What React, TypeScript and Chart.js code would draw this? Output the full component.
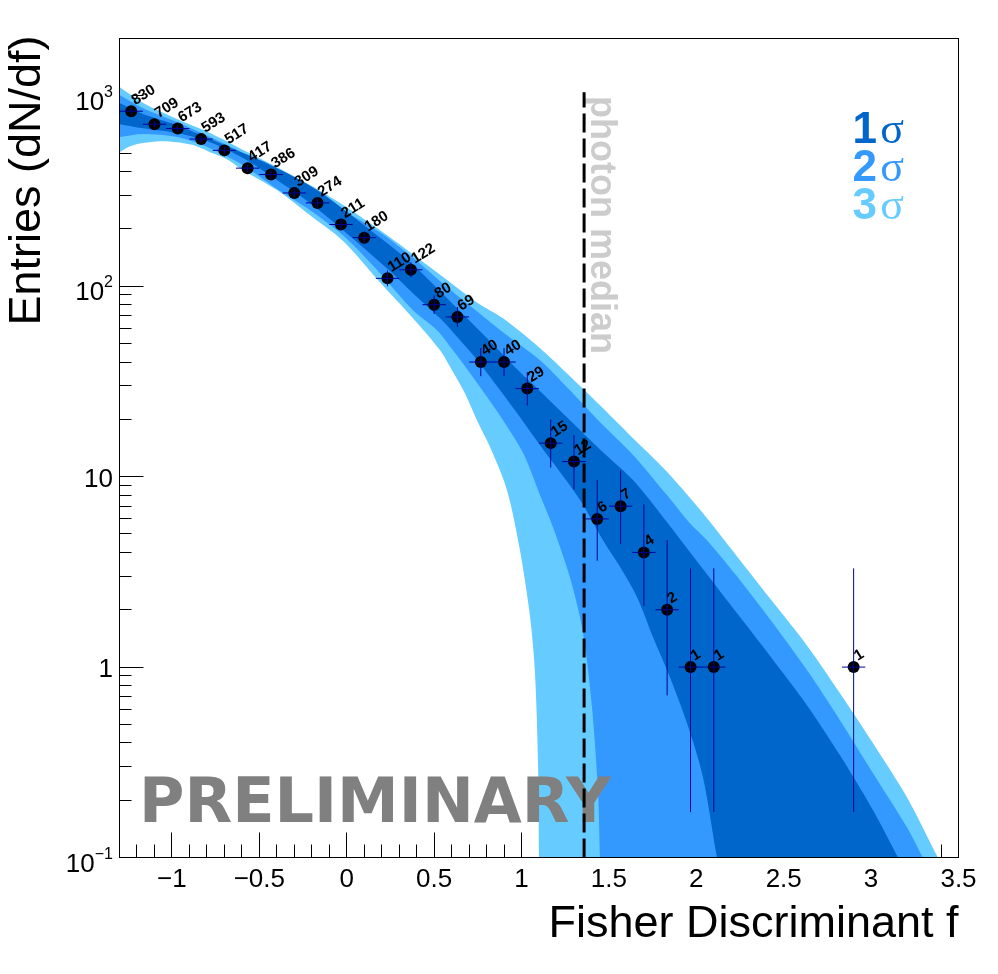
import { useEffect, useRef } from "react";
import { Chart, registerables } from "chart.js";

Chart.register(...registerables);

const FONT = "'Liberation Sans'";

// measured entries, bin centres and poisson error bars
const binCentres = [-1.233, -1.1, -0.967, -0.833, -0.7, -0.567, -0.433, -0.3, -0.167, -0.033, 0.1, 0.233, 0.367, 0.5, 0.633, 0.767, 0.9, 1.033, 1.167, 1.3, 1.433, 1.567, 1.7, 1.833, 1.967, 2.1, 2.9];
const entries = [830, 709, 673, 593, 517, 417, 386, 309, 274, 211, 180, 110, 122, 80, 69, 40, 40, 29, 15, 12, 6, 7, 4, 2, 1, 1, 1];
const errLow = [28.31, 26.13, 25.45, 23.86, 22.24, 19.93, 19.15, 17.08, 16.06, 14.03, 12.93, 10, 10.56, 8.46, 7.82, 6.3, 6.3, 5.37, 3.83, 3.44, 2.38, 2.58, 1.91, 1.29, 0.827, 0.827, 0.827];
const errHigh = [29.31, 27.13, 26.45, 24.86, 23.24, 20.93, 20.15, 18.08, 17.06, 15.03, 13.93, 11, 11.56, 9.46, 8.82, 7.35, 7.35, 6.41, 4.95, 4.53, 3.58, 3.77, 3.16, 2.64, 2.3, 2.3, 2.3];
const binHalfWidth = 0.0667;

// sigma band edges, each runs a little under the axis so the clip cuts it
const s3UpperX = [-1.3, -1.165, -0.971, -0.782, -0.593, -0.399, -0.21, -0.021, 0.173, 0.362, 0.574, 0.751, 0.894, 1.106, 1.277, 1.449, 1.638, 1.832, 2.061, 2.25, 2.439, 2.633, 2.822, 3.011, 3.205, 3.382, 3.423];
const s3Upper = [1111, 916, 755, 637, 519, 422, 340, 267, 202, 151, 108, 81.5, 67.9, 47.3, 33.7, 23.7, 15.9, 10.6, 6.05, 3.64, 2.19, 1.3, 0.729, 0.398, 0.207, 0.1, 0.086];
const s2UpperX = [-1.3, -1.165, -0.971, -0.782, -0.593, -0.399, -0.21, -0.021, 0.19, 0.379, 0.574, 0.723, 0.894, 1.106, 1.277, 1.449, 1.638, 1.832, 1.958, 2.061, 2.25, 2.439, 2.633, 2.822, 3.011, 3.205, 3.296, 3.337];
const s2Upper = [1009, 861, 728, 607, 500, 397, 320, 251, 192, 141, 98.9, 76.7, 57.4, 40.9, 28.4, 19.3, 13, 8, 5.77, 4.63, 2.86, 1.7, 0.964, 0.526, 0.277, 0.144, 0.1, 0.086];
const s1UpperX = [-1.3, -1.165, -0.971, -0.834, -0.702, -0.433, -0.17, 0.099, 0.362, 0.631, 0.803, 0.991, 1.106, 1.277, 1.449, 1.638, 1.81, 2.096, 2.25, 2.439, 2.633, 2.822, 3.011, 3.154, 3.194];
const s1Upper = [916, 802, 701, 622, 551, 432, 320, 209, 134, 76.7, 53.3, 35.4, 28.1, 19.8, 13.9, 9.59, 6.12, 2.79, 1.83, 1.09, 0.631, 0.344, 0.177, 0.1, 0.086];
const s1LowerX = [-1.3, -1.165, -0.971, -0.782, -0.593, -0.399, -0.21, -0.021, 0.231, 0.379, 0.534, 0.608, 0.723, 0.803, 0.975, 1.106, 1.335, 1.466, 1.564, 1.661, 1.752, 1.849, 1.947, 2.038, 2.118, 2.136];
const s1Lower = [710, 676, 637, 571, 471, 361, 273, 197, 124, 92, 67.9, 57.4, 43.5, 35, 21.5, 14.6, 7.53, 4.63, 3.35, 2.33, 1.44, 0.885, 0.507, 0.264, 0.1, 0.086];
const s2LowerX = [-1.3, -1.165, -0.971, -0.782, -0.593, -0.399, -0.21, -0.021, 0.19, 0.379, 0.517, 0.608, 0.705, 0.803, 0.894, 1.009, 1.117, 1.18, 1.277, 1.352, 1.403, 1.438, 1.449, 1.455];
const s2Lower = [607, 630, 607, 531, 432, 324, 251, 185, 117, 74.8, 58.8, 46.1, 35, 26.2, 19.8, 13.3, 7.53, 5.43, 2.96, 1.51, 0.615, 0.218, 0.1, 0.086];
const s3LowerX = [-1.3, -1.239, -1.165, -1.068, -0.971, -0.879, -0.782, -0.685, -0.593, -0.399, -0.21, -0.021, 0.19, 0.379, 0.534, 0.608, 0.676, 0.745, 0.82, 0.917, 0.991, 1.049, 1.077, 1.095, 1.1, 1.101];
const s3Lower = [506, 544, 565, 578, 571, 551, 506, 465, 407, 320, 236, 173, 105, 68, 46.1, 35.4, 27.4, 19.8, 14.3, 8.49, 4.11, 1.83, 0.929, 0.298, 0.1, 0.086];

const medianX = 1.358;
const medianTop = 1045;

// axis ticks
const xLabelTicks = [-1, -0.5, 0, 0.5, 1, 1.5, 2, 2.5, 3, 3.5];
const xMinorTicks = [-1.2, -1.1, -0.9, -0.8, -0.7, -0.6, -0.4, -0.3, -0.2, -0.1, 0.1, 0.2, 0.3, 0.4, 0.6, 0.7, 0.8, 0.9, 1.1, 1.2, 1.3, 1.4, 1.6, 1.7, 1.8, 1.9, 2.1, 2.2, 2.3, 2.4, 2.6, 2.7, 2.8, 2.9, 3.1, 3.2, 3.3, 3.4];
const yMajorTicks = [0.1, 1, 10, 100, 1000];
const yMinorTicks = [0.2, 0.3, 0.4, 0.5, 0.6, 0.7, 0.8, 0.9, 2, 3, 4, 5, 6, 7, 8, 9, 20, 30, 40, 50, 60, 70, 80, 90, 200, 300, 400, 500, 600, 700, 800, 900];
const yTickBase = ["10", "1", "10", "10", "10"];
const yTickExp = ["\u22121", "", "", "2", "3"];

function polygon(upX: number[], up: number[], lowX: number[], low: number[]) {
  const top = upX.map((x, i) => ({ x, y: up[i] }));
  const bottom = lowX.map((x, i) => ({ x, y: low[i] })).reverse();
  return [...top, ...bottom];
}

function bandDataset(data: { x: number; y: number }[], color: string, order: number) {
  return {
    data,
    order,
    showLine: true,
    tension: 0.3,
    fill: "shape",
    backgroundColor: color,
    borderWidth: 0,
    pointRadius: 0,
  };
}

// root style decorations: inside ticks, frame, exponent labels, free text
const decorations = {
  id: "decorations",
  beforeDatasetsDraw(chart: any) {
    // the bands cover the ticks in the original
    const { ctx, scales, chartArea } = chart;
    const { x, y } = scales;
    ctx.save();
    ctx.strokeStyle = "#000";
    ctx.lineWidth = 1;
    ctx.beginPath();
    const vTick = (v: number, len: number) => {
      const p = Math.floor(x.getPixelForValue(v)) + 0.5;
      ctx.moveTo(p, chartArea.bottom);
      ctx.lineTo(p, chartArea.bottom - len);
    };
    const hTick = (v: number, len: number) => {
      const p = Math.floor(y.getPixelForValue(v)) + 0.5;
      ctx.moveTo(chartArea.left, p);
      ctx.lineTo(chartArea.left + len, p);
    };
    xLabelTicks.forEach((v) => vTick(v, 25));
    xMinorTicks.forEach((v) => vTick(v, 13));
    yMajorTicks.forEach((v) => hTick(v, 24));
    yMinorTicks.forEach((v) => hTick(v, 12));
    ctx.stroke();
    ctx.restore();
  },
  afterDatasetDraw(chart: any, args: any) {
    // only after the 1 sigma band, so the dashed line and points stay on top
    if (args.index !== 2) return;
    const { ctx, scales } = chart;
    ctx.save();
    ctx.fillStyle = "#808080";
    ctx.font = "bold 62px 'DejaVu Sans'";
    ctx.textAlign = "left";
    ctx.textBaseline = "alphabetic";
    ctx.fillText("PRELIMINARY", 139, 822);

    ctx.fillStyle = "#cccccc";
    ctx.font = `bold 36px ${FONT}`;
    ctx.translate(scales.x.getPixelForValue(medianX) + 7, 96);
    ctx.rotate(Math.PI / 2);
    ctx.fillText("photon median", 0, 0);
    ctx.restore();
  },
  afterDatasetsDraw(chart: any) {
    const { ctx, scales, chartArea } = chart;
    const { x, y } = scales;
    ctx.save();

    // value labels
    ctx.fillStyle = "#000";
    ctx.font = `bold 15px ${FONT}`;
    ctx.textAlign = "left";
    ctx.textBaseline = "alphabetic";
    entries.forEach((v, i) => {
      ctx.save();
      ctx.translate(x.getPixelForValue(binCentres[i]) + 4, y.getPixelForValue(v) - 6);
      ctx.rotate((-32 * Math.PI) / 180);
      ctx.fillText(String(v), 0, 0);
      ctx.restore();
    });

    ctx.strokeStyle = "#000";
    ctx.lineWidth = 1;
    ctx.strokeRect(chartArea.left, chartArea.top, chartArea.right - chartArea.left, chartArea.bottom - chartArea.top);

    // y axis title, drawn here so it can sit slightly past the frame top
    ctx.save();
    ctx.font = `45px ${FONT}`;
    ctx.textAlign = "right";
    ctx.textBaseline = "middle";
    ctx.translate(27.5, 35.5);
    ctx.rotate(-Math.PI / 2);
    ctx.fillText("Entries (dN/df)", 0, 0);
    ctx.restore();

    // y tick labels with superscripts
    ctx.textAlign = "right";
    ctx.textBaseline = "alphabetic";
    yMajorTicks.forEach((v, i) => {
      const base = yTickBase[i];
      const exp = yTickExp[i];
      const p = y.getPixelForValue(v);
      let right = 113;
      if (exp) {
        ctx.font = `16px ${FONT}`;
        ctx.fillText(exp, right, p + 1);
        right -= ctx.measureText(exp).width;
      }
      ctx.font = `26px ${FONT}`;
      ctx.fillText(base, right, p + (exp ? 14 : 10));
    });

    // sigma legend
    ctx.textAlign = "right";
    [
      { n: "1", color: "#0066cc", base: 143 },
      { n: "2", color: "#3399ff", base: 181 },
      { n: "3", color: "#66ccff", base: 219 },
    ].forEach(({ n, color, base }) => {
      ctx.fillStyle = color;
      ctx.font = `44px 'Liberation Serif'`;
      ctx.fillText("\u03c3", 904, base);
      ctx.font = `bold 44px ${FONT}`;
      ctx.fillText(n, 877, base);
    });
    ctx.restore();
  },
};

export default function App() {
  const ref = useRef<HTMLCanvasElement | null>(null);

  useEffect(() => {
    if (!ref.current) return;
    const points = binCentres.map((x, i) => ({ x, y: entries[i] }));
    const errorBars: { x: number; y: number }[] = [];
    binCentres.forEach((x, i) => {
      const v = entries[i];
      errorBars.push({ x: x - binHalfWidth, y: v }, { x: x + binHalfWidth, y: v }, { x: NaN, y: NaN });
      errorBars.push({ x, y: v - errLow[i] }, { x, y: v + errHigh[i] }, { x: NaN, y: NaN });
    });

    const chart = new Chart(ref.current, {
      type: "scatter",
      data: {
        datasets: [
          bandDataset(polygon(s3UpperX, s3Upper, s3LowerX, s3Lower), "#66ccff", 7),
          bandDataset(polygon(s2UpperX, s2Upper, s2LowerX, s2Lower), "#3399ff", 6),
          bandDataset(polygon(s1UpperX, s1Upper, s1LowerX, s1Lower), "#0066cc", 5),
          {
            data: [{ x: medianX, y: 0.1 }, { x: medianX, y: medianTop }],
            order: 4,
            showLine: true,
            borderColor: "#000",
            borderWidth: 3,
            borderDash: [19, 6],
            pointRadius: 0,
          },
          { data: points, order: 3, backgroundColor: "#000", pointRadius: 6, pointBorderWidth: 0 },
          { data: errorBars, order: 2, showLine: true, spanGaps: false, borderColor: "#000099", borderWidth: 1, pointRadius: 0 },
        ],
      } as any,
      options: {
        responsive: false,
        animation: false,
        devicePixelRatio: 1,
        layout: { padding: { top: 38.5, right: 39.5, left: 0, bottom: 0 } },
        plugins: { legend: { display: false }, tooltip: { enabled: false } },
        scales: {
          x: {
            type: "linear",
            min: -1.3,
            max: 3.5,
            grid: { display: false },
            border: { display: false },
            afterBuildTicks: (scale: any) => {
              scale.ticks = xLabelTicks.map((value) => ({ value }));
            },
            afterFit: (scale: any) => {
              scale.height = 116.5;
            },
            ticks: {
              autoSkip: false,
              maxRotation: 0,
              padding: -1,
              color: "#000",
              font: { family: FONT, size: 26 },
              callback: (v: any) => String(v).replace("-", "\u2212"),
            },
            title: {
              display: true,
              text: "Fisher Discriminant f",
              align: "end",
              color: "#000",
              font: { family: FONT, size: 45 },
              padding: { top: 0, bottom: 22 },
            },
          },
          y: {
            type: "logarithmic",
            min: 0.1,
            max: 2000,
            grid: { display: false },
            border: { display: false },
            ticks: { display: false },
            afterFit: (scale: any) => {
              scale.width = 119.5;
            },
          },
        },
      },
      plugins: [decorations],
    } as any);

    return () => chart.destroy();
  }, []);

  return (
    <div style={{ position: "absolute", left: 0, top: 0, width: 998, height: 974, background: "#fff" }}>
      <canvas ref={ref} width={998} height={974} style={{ display: "block" }} />
    </div>
  );
}
